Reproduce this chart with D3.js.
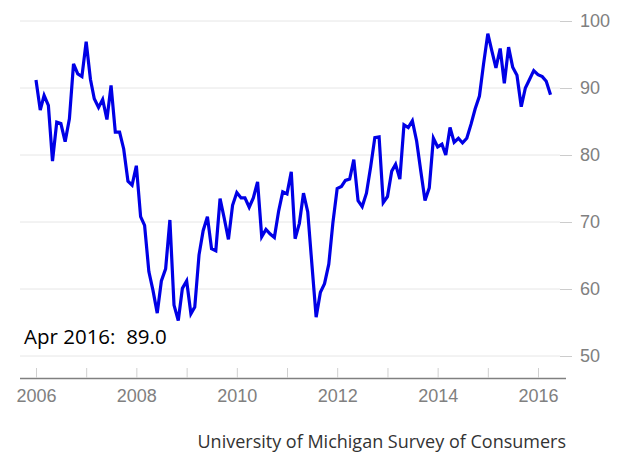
<!DOCTYPE html>
<html>
<head>
<meta charset="utf-8">
<script src="https://cdn.jsdelivr.net/npm/d3@7"></script>
<style>
  body { margin: 0; background: #fff; }
  svg { display: block; font-family: "Open Sans", Lato, sans-serif; }
</style>
</head>
<body>
<div id="chart"></div>
<script>
// monthly index, Jan 2006 .. Apr 2016
const years = [2006, 2007, 2008, 2009, 2010, 2011, 2012, 2013, 2014, 2015, 2016];
const sentiment = [
  91.2, 86.7, 88.9, 87.4, 79.1, 84.9, 84.7, 82.0, 85.4, 93.6, 92.1, 91.7,
  96.9, 91.3, 88.4, 87.1, 88.3, 85.3, 90.4, 83.4, 83.4, 80.9, 76.1, 75.5,
  78.4, 70.8, 69.5, 62.6, 59.8, 56.4, 61.2, 63.0, 70.3, 57.6, 55.3, 60.1,
  61.2, 56.3, 57.3, 65.1, 68.7, 70.8, 66.0, 65.7, 73.5, 70.6, 67.4, 72.5,
  74.4, 73.6, 73.6, 72.2, 73.6, 76.0, 67.8, 68.9, 68.2, 67.7, 71.6, 74.5,
  74.2, 77.5, 67.5, 69.8, 74.3, 71.5, 63.7, 55.8, 59.5, 60.8, 63.7, 69.9,
  75.0, 75.3, 76.2, 76.4, 79.3, 73.2, 72.3, 74.3, 78.3, 82.6, 82.7, 72.9,
  73.8, 77.6, 78.6, 76.4, 84.5, 84.1, 85.1, 82.1, 77.5, 73.2, 75.1, 82.5,
  81.2, 81.6, 80.0, 84.1, 81.9, 82.5, 81.8, 82.5, 84.6, 86.9, 88.8, 93.6,
  98.1, 95.4, 93.0, 95.9, 90.7, 96.1, 93.1, 91.9, 87.2, 90.0, 91.3, 92.6,
  92.0, 91.7, 91.0, 89.0
];
const yTicks = [50, 60, 70, 80, 90, 100];
const lastLabel = 'Apr 2016:\u00a0 89.0';
const source = 'University of Michigan Survey of Consumers';

const width = 628, height = 453;
const data = sentiment.map((v, i) => ({ date: new Date(2006, i, 1), value: v }));

const svg = d3.select('#chart').append('svg')
  .attr('width', width)
  .attr('height', height);

const x = d3.scaleTime()
  .domain([new Date(2006, 0, 1), new Date(2016, 0, 1)])
  .range([36, 538]);

const y = d3.scaleLinear()
  .domain([50, 100])
  .range([356, 21]);

// gridlines
svg.append('g')
  .selectAll('line')
  .data(yTicks)
  .join('line')
  .attr('x1', 20).attr('x2', 560)
  .attr('y1', d => y(d)).attr('y2', d => y(d))
  .attr('stroke', '#e6e6e6')
  .attr('stroke-width', 1);

// right axis
const yAxis = svg.append('g')
  .attr('transform', 'translate(560,0)')
  .call(d3.axisRight(y).tickValues(yTicks).tickSize(12).tickPadding(8));
yAxis.select('.domain').remove();
yAxis.selectAll('.tick line').attr('stroke', '#cccccc');
yAxis.selectAll('.tick text')
  .attr('fill', '#808080')
  .style('font-size', '18px');

// bottom axis
const xAxis = svg.append('g')
  .attr('transform', 'translate(0,378)')
  .call(d3.axisBottom(x)
    .tickValues(years.map(yr => new Date(yr, 0, 1)))
    .tickSize(-10)
    .tickPadding(10)
    .tickFormat(d => d.getFullYear() % 2 === 0 ? d.getFullYear() : ''));
xAxis.select('.domain')
  .attr('d', 'M20,0.5H566')
  .attr('stroke', '#808080')
  .attr('stroke-width', 1.5);
xAxis.selectAll('.tick line').attr('stroke', '#d0d0d0');
xAxis.selectAll('.tick text')
  .attr('fill', '#808080')
  .attr('dy', '0.75em')
  .style('font-size', '18px');

// the series
const line = d3.line()
  .x(d => x(d.date))
  .y(d => y(d.value));

svg.append('path')
  .datum(data)
  .attr('d', line)
  .attr('fill', 'none')
  .attr('stroke', '#0000e6')
  .attr('stroke-width', 3.2)
  .attr('stroke-linejoin', 'miter');

svg.append('text')
  .attr('x', 24).attr('y', 344)
  .attr('fill', '#000')
  .style('font-size', '20.5px')
  .text(lastLabel);

svg.append('text')
  .attr('x', 566).attr('y', 448)
  .attr('text-anchor', 'end')
  .attr('fill', '#333')
  .style('font-size', '18px')
  .text(source);
</script>
</body>
</html>
